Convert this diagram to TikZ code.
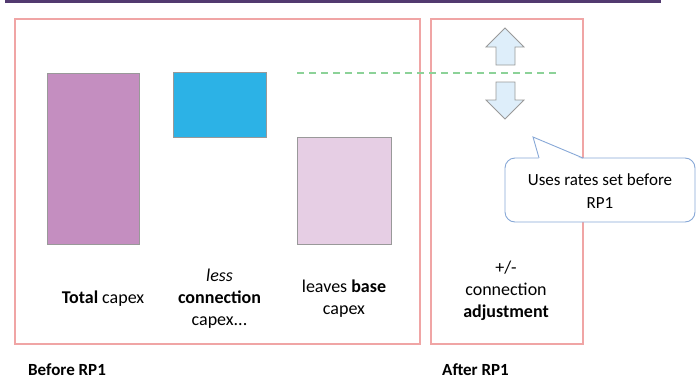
\documentclass[tikz,border=0pt]{standalone}
\usepackage{fontspec}
\setmainfont{Carlito}
\usetikzlibrary{positioning}
\definecolor{ctop}{RGB}{82,58,112}
\definecolor{cframe}{RGB}{240,165,165}
\definecolor{ctotal}{RGB}{196,142,192}
\definecolor{cconn}{RGB}{44,178,230}
\definecolor{cbase}{RGB}{230,206,228}
\definecolor{carrow}{RGB}{222,238,250}
\definecolor{cdash}{RGB}{140,210,152}
\definecolor{ccall}{RGB}{135,168,215}
\tikzset{
  panel/.style={draw=cframe,line width=1.1pt},
  bar/.style={rectangle,draw=black!40,line width=0.9pt,inner sep=0pt,
    anchor=north west},
  lab/.style={font=\fontsize{18}{22}\selectfont,align=center,inner sep=0pt},
  period/.style={font=\fontsize{17}{20}\selectfont\bfseries,anchor=west,inner sep=0pt},
  blockarr/.style={fill=carrow,draw=black!40,line width=0.8pt},
  level/.style={draw=cdash,line width=1.3pt,dash pattern=on 7pt off 5pt},
  callout/.style={draw=ccall,line width=0.9pt,fill=white}
}
\begin{document}
\begin{tikzpicture}[x=1pt,y=-1pt]
 \useasboundingbox (0,0) rectangle (699,380);
 % banner line along the top
 \draw[ctop,line width=3pt] (5,1.5) -- (661,1.5);
 % the two periods
 \draw[panel] (15,19) rectangle (420,344);
 \draw[panel] (431,19) rectangle (583,344);
 \node[period] (before) at (28,370) {Before RP1};
 \node[period] (after) at (442,370) {After RP1};
 % before RP1: total less connection leaves base
 \node[bar,fill=ctotal,minimum width=92pt,minimum height=171pt] (total) at (47,73) {};
 \node[bar,fill=cconn,minimum width=93pt,minimum height=65pt] (conn) at (173,72) {};
 \node[bar,fill=cbase,minimum width=94pt,minimum height=107pt] (base) at (297,137) {};
 \node[lab] (totallab) at (103,299) {\textbf{Total} capex};
 \node[lab] (connlab) at (219.5,299) {\textit{less}\\ \textbf{connection}\\ capex...};
 \node[lab] (baselab) at (344,299) {leaves \textbf{base}\\ capex};
 % after RP1: the connection part moves up or down
 \draw[level] (297,73) -- (560,73);
 \draw[blockarr] (505,28) -- (524,47) -- (515,47) -- (515,65) -- (496,65)
   -- (496,47) -- (486,47) -- cycle;
 \draw[blockarr] (505,119) -- (524,100) -- (515,100) -- (515,82) -- (496,82)
   -- (496,100) -- (486,100) -- cycle;
 \node[lab] (adjlab) at (506,291) {+/-\\ connection\\ \textbf{adjustment}};
 % callout
 \draw[callout,rounded corners=10pt] (505,158) rectangle (695,222);
 \coordinate (tip) at (533,137);
 \fill[white] (539,159.5) -- (tip) -- (583,159.5) -- cycle;
 \draw[ccall,line width=0.9pt] (539,158) -- (tip) -- (583,158);
 \node[font=\fontsize{17}{23}\selectfont,align=center,inner sep=0pt] (note)
   at (600,191) {Uses rates set before\\ RP1};
\end{tikzpicture}
\end{document}
